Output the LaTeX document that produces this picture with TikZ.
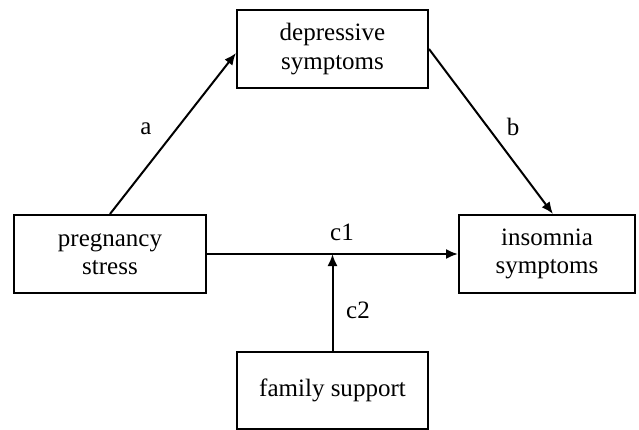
\documentclass[tikz,border=0pt]{standalone}
\usepackage{fontspec}
\setmainfont{Liberation Serif}
\usetikzlibrary{arrows.meta}
\begin{document}
\begin{tikzpicture}[x=1pt,y=-1pt,
  box/.style={draw, line width=2pt, rectangle, inner sep=0pt, align=center,
    font=\fontsize{25}{28.5}\selectfont},
  conn/.style={line width=2pt, -{Latex[length=12pt,width=10pt]}},
  lab/.style={font=\fontsize{25}{28.5}\selectfont, inner sep=0pt}]
\useasboundingbox (0,0) rectangle (639,430);
\node[box, minimum width=191pt, minimum height=78pt] (dep) at (332.5,49) {depressive\\symptoms};
\node[box, minimum width=192pt, minimum height=78pt] (preg) at (110,254) {pregnancy\\stress};
\node[box, minimum width=176pt, minimum height=78pt] (ins) at (547,254) {insomnia\\symptoms};
\node[box, minimum width=191pt, minimum height=77pt] (fam) at (332.5,390.5) {family support};
\coordinate (mid) at (fam.north |- preg.east);
\draw[conn] (preg.north) -- ([yshift=-4pt]dep.west);
\draw[conn] (dep.east) -- ([xshift=6pt]ins.north);
\draw[conn] (preg.east) -- (ins.west);
\draw[conn] (fam.north) -- (mid);
\node[lab] (la) at (146,129) {a};
\node[lab] (lb) at (513,127) {b};
\node[lab] (lc1) at (342,232) {c1};
\node[lab] (lc2) at (358,310) {c2};
\end{tikzpicture}
\end{document}
